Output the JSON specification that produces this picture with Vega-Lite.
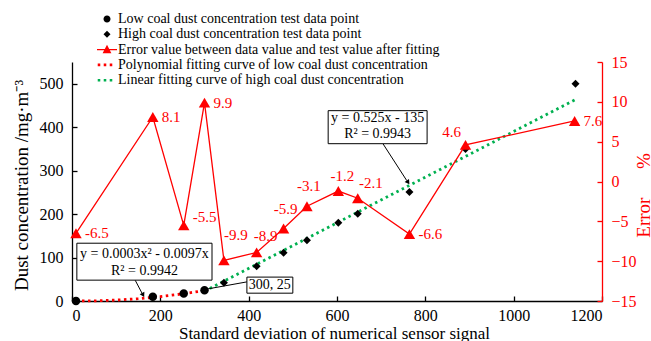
{
  "$schema": "https://vega.github.io/schema/vega-lite/v6.json",
  "width": 530,
  "height": 239,
  "autosize": {"type": "none"},
  "padding": {"left": 72, "top": 62, "right": 49, "bottom": 40},
  "background": "white",
  "config": {
    "font": "Liberation Serif",
    "view": {"stroke": null},
    "axis": {
      "grid": false,
      "labelFont": "Liberation Serif",
      "titleFont": "Liberation Serif",
      "titleFontWeight": "normal",
      "labelFontSize": 16,
      "titleFontSize": 18,
      "tickSize": -5,
      "domainColor": "#000000",
      "tickColor": "#000000",
      "labelColor": "#000000",
      "titleColor": "#000000",
      "domainWidth": 1.3,
      "tickWidth": 1.3
    }
  },
  "datasets": {
    "low": [
      {"x": 9, "y": 0}, {"x": 183, "y": 10}, {"x": 253, "y": 17}, {"x": 300, "y": 25}
    ],
    "high": [
      {"x": 344, "y": 42}, {"x": 418, "y": 80}, {"x": 479, "y": 111}, {"x": 532, "y": 140},
      {"x": 603, "y": 180}, {"x": 647, "y": 201}, {"x": 764, "y": 251}, {"x": 891, "y": 350},
      {"x": 1140, "y": 500}
    ],
    "poly": [
      {"x": 9, "y": 0}, {"x": 50, "y": 0.3}, {"x": 100, "y": 2}, {"x": 150, "y": 5.3},
      {"x": 200, "y": 10.1}, {"x": 250, "y": 16.3}, {"x": 300, "y": 24.1}
    ],
    "lin": [
      {"x": 300, "y": 22.5}, {"x": 1140, "y": 463.5}
    ],
    "err": [
      {"x": 9, "err": -6.5}, {"x": 183, "err": 8.1}, {"x": 253, "err": -5.5}, {"x": 300, "err": 9.9},
      {"x": 344, "err": -9.9}, {"x": 418, "err": -8.9}, {"x": 479, "err": -5.9}, {"x": 532, "err": -3.1},
      {"x": 603, "err": -1.2}, {"x": 647, "err": -2.1}, {"x": 764, "err": -6.6}, {"x": 891, "err": 4.6},
      {"x": 1138, "err": 7.6}
    ],
    "boxes": [
      {"x": 11, "x2": 317, "y": 48, "y2": 133},
      {"x": 396, "x2": 500, "y": 18, "y2": 55},
      {"x": 580, "x2": 804, "y": 362, "y2": 438}
    ],
    "boxtext": [
      {"x": 164, "y": 108, "t": "y = 0.0003x² - 0.0097x"},
      {"x": 164, "y": 68, "t": "R² = 0.9942"},
      {"x": 448, "y": 37, "t": "300, 25"},
      {"x": 692, "y": 420, "t": "y = 0.525x - 135"},
      {"x": 692, "y": 384, "t": "R² = 0.9943"}
    ],
    "leaders": [
      {"x": 143, "y": 48, "x2": 159, "y2": 17},
      {"x": 303, "y": 27, "x2": 396, "y2": 44},
      {"x": 704, "y": 362, "x2": 758, "y2": 277}
    ]
  },
  "layer": [
    {
      "encoding": {
        "x": {
          "field": "x", "type": "quantitative",
          "scale": {"domain": [0, 1200], "nice": false},
          "axis": {
            "values": [0, 200, 400, 600, 800, 1000, 1200],
            "format": "d",
            "title": "Standard deviation of numerical sensor signal",
            "titleFontSize": 17,
            "titleX": 262, "titleY": 37, "titleBaseline": "alphabetic",
            "labelPadding": 11
          }
        },
        "y": {
          "field": "y", "type": "quantitative",
          "scale": {"domain": [0, 550], "nice": false},
          "axis": {
            "values": [0, 100, 200, 300, 400, 500],
            "title": "Dust concentration /mg·m⁻³",
            "titleFontSize": 19,
            "titleAngle": -90, "titleX": -51, "titleY": 123,
            "titleBaseline": "middle", "titleAlign": "center",
            "labelPadding": 14
          }
        }
      },
      "layer": [
        {
          "data": {"name": "poly"},
          "mark": {"type": "line", "strokeWidth": 2.8, "strokeDash": [2.5, 3.5], "strokeCap": "butt"},
          "encoding": {"color": {"datum": "Polynomial fitting curve of low coal dust concentration"}}
        },
        {
          "data": {"name": "lin"},
          "mark": {"type": "line", "strokeWidth": 2.8, "strokeDash": [2.5, 3.5], "strokeCap": "butt"},
          "encoding": {"color": {"datum": "Linear fitting curve of high coal dust concentration"}}
        },
        {
          "data": {"name": "low"},
          "mark": {"type": "point", "filled": true, "size": 373, "opacity": 1},
          "encoding": {
            "color": {
              "datum": "Low coal dust concentration test data point",
              "scale": {
                "domain": [
                  "Low coal dust concentration test data point",
                  "High coal dust concentration test data point",
                  "Error value between data value and test value after fitting",
                  "Polynomial fitting curve of low coal dust concentration",
                  "Linear fitting curve of high coal dust concentration"
                ],
                "range": ["#000000", "#000000", "#FF0000", "#FF0000", "#00B050"]
              },
              "legend": {
                "orient": "none", "legendX": 27, "legendY": -51, "title": null,
                "labelFontSize": 14, "labelFont": "Liberation Serif", "labelColor": "#000000",
                "labelLimit": 500, "symbolSize": 256, "symbolStrokeWidth": 0,
                "rowPadding": 0.3, "labelOffset": 3, "padding": 0,
                "symbolOpacity": 1,
                "encode": {"symbols": {"update": {"fill": {"scale": "color", "field": "value"}, "stroke": {"value": "transparent"}}}}
              }
            },
            "shape": {
              "datum": "Low coal dust concentration test data point",
              "scale": {
                "domain": [
                  "Low coal dust concentration test data point",
                  "High coal dust concentration test data point",
                  "Error value between data value and test value after fitting",
                  "Polynomial fitting curve of low coal dust concentration",
                  "Linear fitting curve of high coal dust concentration"
                ],
                "range": [
                  "M0.44,0A0.44,0.44,0,1,1,-0.44,0A0.44,0.44,0,1,1,0.44,0Z",
                  "M0,-0.44L0.44,0L0,0.44L-0.44,0Z",
                  "M-1.25,-0.09H1.25V0.09H-1.25Z M0,-0.6L0.55,0.45L-0.55,0.45Z",
                  "M-1.16,-0.16h0.32v0.32h-0.32Z M-0.41,-0.16h0.32v0.32h-0.32Z M0.34,-0.16h0.32v0.32h-0.32Z",
                  "M-1.16,-0.16h0.32v0.32h-0.32Z M-0.41,-0.16h0.32v0.32h-0.32Z M0.34,-0.16h0.32v0.32h-0.32Z"
                ]
              },
              "legend": {
                "orient": "none", "legendX": 27, "legendY": -51, "title": null,
                "labelFontSize": 14, "labelFont": "Liberation Serif", "labelColor": "#000000",
                "labelLimit": 500, "symbolSize": 256, "symbolStrokeWidth": 0,
                "rowPadding": 0.3, "labelOffset": 3, "padding": 0,
                "symbolOpacity": 1,
                "encode": {"symbols": {"update": {"fill": {"scale": "color", "field": "value"}, "stroke": {"value": "transparent"}}}}
              }
            }
          }
        },
        {
          "data": {"name": "high"},
          "mark": {"type": "point", "filled": true, "size": 331, "opacity": 1},
          "encoding": {
            "color": {"datum": "High coal dust concentration test data point"},
            "shape": {"datum": "High coal dust concentration test data point"}
          }
        },
        {
          "data": {"name": "leaders"},
          "mark": {"type": "rule", "color": "#000000", "strokeWidth": 1},
          "encoding": {"x2": {"field": "x2"}, "y2": {"field": "y2"}}
        },
        {
          "data": {"values": [{"x": 161, "y": 14}]},
          "mark": {"type": "point", "shape": "triangle-down", "filled": true, "size": 28, "color": "#000000", "opacity": 1, "angle": -28}
        },
        {
          "data": {"values": [{"x": 761, "y": 273}]},
          "mark": {"type": "point", "shape": "triangle-down", "filled": true, "size": 28, "color": "#000000", "opacity": 1, "angle": -34}
        },
        {
          "data": {"name": "boxes"},
          "mark": {"type": "rect", "fill": "white", "stroke": "#000000", "strokeWidth": 1},
          "encoding": {"x2": {"field": "x2"}, "y2": {"field": "y2"}}
        },
        {
          "data": {"name": "boxtext"},
          "mark": {"type": "text", "fontSize": 14, "align": "center", "baseline": "middle", "color": "#000000"},
          "encoding": {"text": {"field": "t", "type": "nominal"}}
        }
      ]
    },
    {
      "data": {"name": "err"},
      "encoding": {
        "x": {"field": "x", "type": "quantitative", "scale": {"domain": [0, 1200], "nice": false}},
        "y": {
          "field": "err", "type": "quantitative",
          "scale": {"domain": [-15, 15], "nice": false},
          "axis": {
            "orient": "right",
            "values": [-15, -10, -5, 0, 5, 10, 15],
            "title": "Error\u00a0\u00a0\u00a0\u00a0\u00a0\u00a0%",
            "titleFontSize": 19,
            "titleAngle": -90, "titleX": 41, "titleY": 133,
            "titleBaseline": "middle", "titleAlign": "center",
            "domainColor": "#FF0000", "tickColor": "#FF0000",
            "labelColor": "#FF0000", "titleColor": "#FF0000",
            "labelPadding": 14
          }
        }
      },
      "layer": [
        {
          "mark": {"type": "line", "strokeWidth": 1.3},
          "encoding": {"color": {"datum": "Error value between data value and test value after fitting"}}
        },
        {
          "mark": {"type": "point", "shape": "triangle-up", "filled": true, "size": 130, "color": "#FF0000", "opacity": 1}
        },
        {
          "transform": [{"filter": {"field": "x", "oneOf": [9, 183, 300, 764, 1138]}}],
          "mark": {"type": "text", "align": "left", "baseline": "middle", "dx": 9, "fontSize": 15, "color": "#FF0000"},
          "encoding": {"text": {"field": "err", "type": "nominal"}}
        },
        {
          "transform": [{"filter": {"field": "x", "oneOf": [253]}}],
          "mark": {"type": "text", "align": "left", "baseline": "middle", "dx": 9, "dy": -8, "fontSize": 15, "color": "#FF0000"},
          "encoding": {"text": {"field": "err", "type": "nominal"}}
        },
        {
          "transform": [{"filter": {"field": "x", "oneOf": [418]}}],
          "mark": {"type": "text", "align": "center", "baseline": "middle", "dx": 9, "dy": -16, "fontSize": 15, "color": "#FF0000"},
          "encoding": {"text": {"field": "err", "type": "nominal"}}
        },
        {
          "transform": [{"filter": {"field": "x", "oneOf": [603]}}],
          "mark": {"type": "text", "align": "center", "baseline": "middle", "dx": 4, "dy": -15, "fontSize": 15, "color": "#FF0000"},
          "encoding": {"text": {"field": "err", "type": "nominal"}}
        },
        {
          "transform": [{"filter": {"field": "x", "oneOf": [647]}}],
          "mark": {"type": "text", "align": "center", "baseline": "middle", "dx": 13, "dy": -15, "fontSize": 15, "color": "#FF0000"},
          "encoding": {"text": {"field": "err", "type": "nominal"}}
        },
        {
          "transform": [{"filter": {"field": "x", "oneOf": [479, 532]}}],
          "mark": {"type": "text", "align": "center", "baseline": "middle", "dx": 2, "dy": -20, "fontSize": 15, "color": "#FF0000"},
          "encoding": {"text": {"field": "err", "type": "nominal"}}
        },
        {
          "transform": [{"filter": {"field": "x", "oneOf": [891]}}],
          "mark": {"type": "text", "align": "center", "baseline": "middle", "dx": -14, "dy": -13, "fontSize": 15, "color": "#FF0000"},
          "encoding": {"text": {"field": "err", "type": "nominal"}}
        },
        {
          "transform": [{"filter": {"field": "x", "oneOf": [344]}}],
          "mark": {"type": "text", "align": "center", "baseline": "middle", "dx": 12, "dy": -25, "fontSize": 15, "color": "#FF0000"},
          "encoding": {"text": {"field": "err", "type": "nominal"}}
        }
      ]
    }
  ],
  "resolve": {"scale": {"y": "independent"}}
}
